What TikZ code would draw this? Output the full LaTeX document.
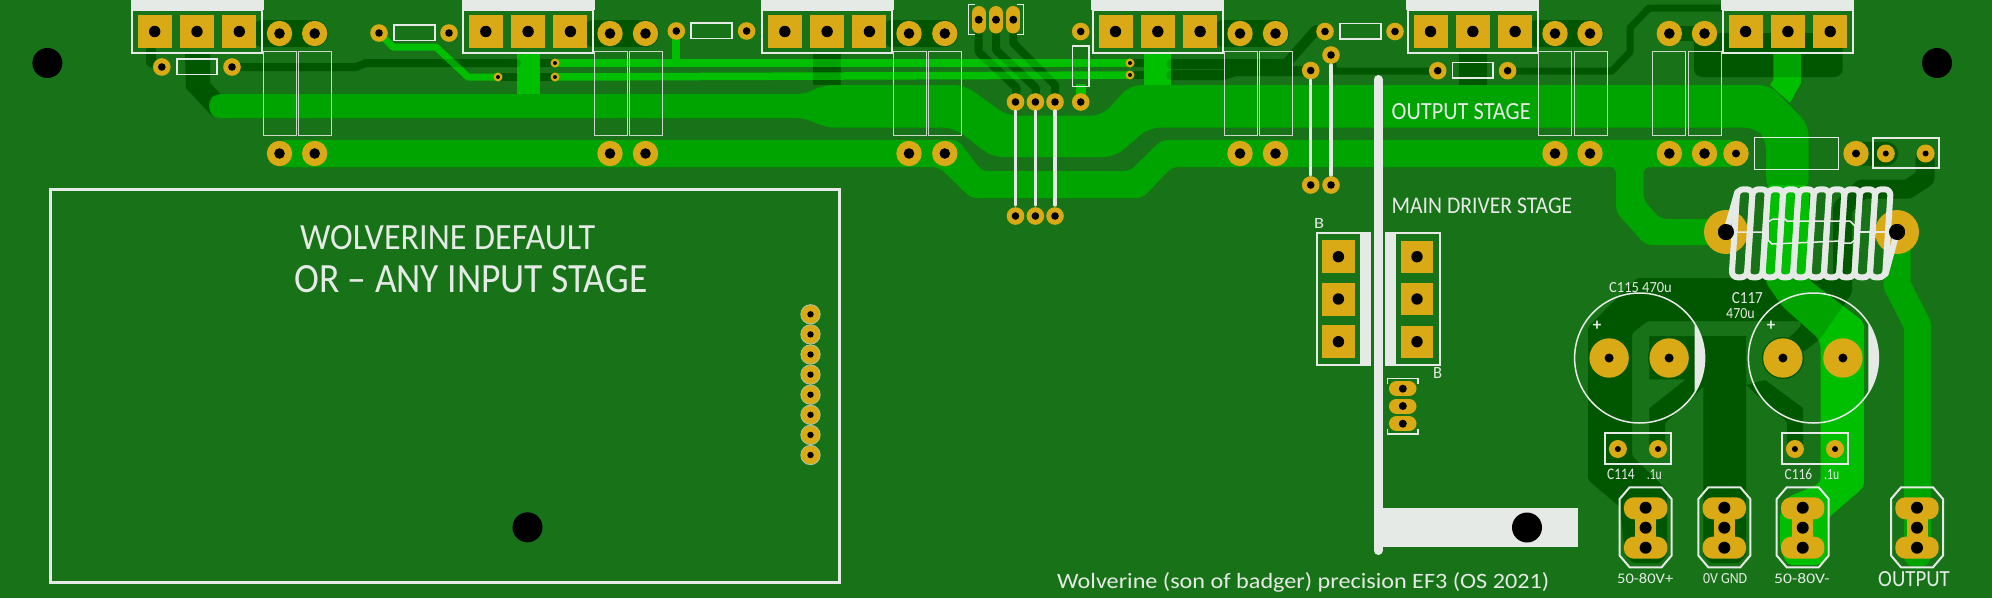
\documentclass[tikz,border=0pt]{standalone}
\usepackage{fontspec}
\setmainfont{Carlito}
\definecolor{board}{HTML}{187318}
\definecolor{midcu}{HTML}{00A400}
\definecolor{brightcu}{HTML}{00BE00}
\definecolor{darkcu}{HTML}{006600}
\definecolor{padcu}{HTML}{DAA916}
\definecolor{silk}{HTML}{E6EAE6}
\tikzset{
	silkline/.style={draw=silk,line width=2pt},
	silkthin/.style={draw=silk!85!board,line width=1pt},
	lbl/.style={inner sep=0pt,anchor=base west,text=silk},
	trace/.style={line join=round,line cap=round},
}
\newcommand{\padhole}[4]{\fill[padcu] (#1,#2) circle (#3); \fill[black] (#1,#2) circle (#4);}
\newcommand{\silkfit}[3]{\resizebox{#1pt}{#2pt}{#3}}
% back side copper, drawn under the front tracks and once more over them
\newcommand{\backcopper}{
	\foreach \xa/\xb in {263/314.7,594/645.5,893/944.8,1224/1275.5,1538/1590}
	\draw[darkcu,trace,line width=27pt] (\xa,33.5) -- (\xb,33.5);
	\draw[darkcu,trace,line width=15pt] (1669,33.5) -- (1704,33.5);
	\draw[darkcu,trace,line width=10pt] (151,50) -- (151,62) -- (162,67);
	\fill[darkcu] (185,54) -- (210,54) -- (210,83) -- (221,94) -- (212,97) -- (209,106) -- (212,116) -- (186,88) -- cycle;
	\draw[darkcu,trace,line width=8pt] (232,67) -- (356,67) -- (366,63) -- (517,63);
	\draw[darkcu,line width=8pt] (540,63) -- (555,63) (498,77) -- (517,77) (540,77) -- (555,77) (1130,63) -- (1144,63) (1130,75) -- (1144,75);
	\fill[darkcu] (813,54) rectangle (840.6,85);
	\fill[darkcu] (1459,54) rectangle (1487,85);
	\draw[darkcu,trace,line width=8pt] (978.7,30) -- (978.7,52) -- (1016.7,88) -- (1015.5,102);
	\draw[darkcu,trace,line width=8pt] (996,30) -- (996,50) -- (1036,88) -- (1035.4,102);
	\draw[darkcu,trace,line width=8pt] (1013.3,30) -- (1013.3,43) -- (1055,85) -- (1055,102);
	\draw[darkcu,trace,line width=10pt] (1171,64) -- (1286,64) -- (1316,30);
	\draw[darkcu,trace,line width=10pt] (1171,75) -- (1223,75) -- (1236,71) -- (1304,71);
	\draw[darkcu,trace,line width=7pt] (1331,55) -- (1334,71) -- (1438,71);
	\draw[darkcu,trace,line width=7pt] (1508,71) -- (1612,71) -- (1630,52) -- (1630,28) -- (1649,8) -- (1722,8);
	\fill[darkcu,rounded corners=8pt] (1694,33) rectangle (1842.6,77);
	\draw[darkcu,trace,line width=24pt] (1856,153.5) -- (1886,153.5);
	\draw[darkcu,trace,line width=19pt] (1925,160) -- (1925,178) -- (1908,189) -- (1862,189) -- (1842.5,208) -- (1842.5,270);
	\fill[darkcu,rounded corners=3pt] (1637,278) -- (1588,327) -- (1588,480) -- (1620,507) -- (1625,555) -- (1633,563) -- (1660,563)
		-- (1667,555) -- (1667,490) -- (1632,456) -- (1632,333) -- (1648,321) -- (1800,321) -- (1802,325) -- (1790,337) -- (1775,345)
		-- (1803,352) -- (1820,339) -- (1852,293) -- (1852,262) -- (1833,262) -- (1833,278) -- cycle;
	\fill[darkcu] (1649.3,336) -- (1746,336) -- (1746,555) -- (1738,563) -- (1711,563) -- (1703.3,555) -- (1703.3,386.7)
		-- (1665,423.3) -- (1665,445) -- (1649.3,445) -- (1649.3,408.3) -- (1686,379.3) -- (1649.3,379.3) -- cycle;
	\fill[darkcu] (1746,385) -- (1787,422) -- (1787,445) -- (1803,445) -- (1803,408) -- (1765,380) -- cycle;
	\fill[darkcu] (1669,358) circle (21);
	\fill[darkcu] (1783,358) circle (21);
}
\begin{document}
\begin{tikzpicture}[x=1pt,y=-1pt]
	\fill[board] (0,0) rectangle (1992,598);
	\useasboundingbox (0,0) rectangle (1992,598);

	\backcopper

	% wide tracks
	\fill[midcu,rounded corners=11pt] (209,94) -- (808,94) -- (821.5,85) -- (964.7,85) -- (1007,115.7) -- (1102.3,115.7)
		-- (1130,85) -- (1770,85) -- (1808.7,125) -- (1808.7,190) -- (1766,190) -- (1766,138) -- (1755,127.5)
		-- (1149,127.5) -- (1115,157) -- (992,157) -- (954,127.5) -- (823,127.5) -- (808,118) -- (209,118) -- cycle;
	\fill[midcu,rounded corners=6pt] (279.5,140) -- (958,140) -- (981.6,171) -- (1130,171) -- (1161.6,140) -- (1736,140)
		-- (1736,167) -- (1643.5,167) -- (1643.5,200) -- (1660.5,219) -- (1726,219) -- (1726,245) -- (1645.6,245)
		-- (1616,212) -- (1616,167) -- (1172,167) -- (1142.6,198) -- (971,198) -- (939,167) -- (279.5,167) -- cycle;
	\draw[midcu,trace,line width=27pt] (1897,240) -- (1897,285) -- (1917.5,325) -- (1917.5,555);

	% thin tracks
	\draw[brightcu,trace,line width=7pt] (379,33) -- (393,47) -- (436,47) -- (468,77) -- (498,77);
	\draw[brightcu,line width=8pt] (555,63) -- (1130,63);
	\draw[brightcu,line width=7.5pt] (555,77) -- (1130,75);
	\draw[brightcu,line width=8pt] (676,31) -- (676,60);
	\draw[brightcu,line width=10pt] (1081,84) -- (1081,102);
	\fill[brightcu] (516.7,54) rectangle (540,94);
	\fill[brightcu] (1143.8,54) rectangle (1171,85);
	\fill[brightcu] (1773.3,54) -- (1801,54) -- (1801,83) -- (1790,102.7) -- (1770,85) -- (1773.3,80) -- cycle;
	\fill[brightcu,rounded corners=5pt] (1766,185) -- (1809,185) -- (1809,280) -- (1864,322) -- (1864,487) -- (1828,518)
		-- (1827,557) -- (1820,565) -- (1787,565) -- (1780,547) -- (1780,513) -- (1788,497) -- (1820.7,483)
		-- (1820.7,345) -- (1818,338) -- (1783,307) -- (1766,283) -- cycle;

	% where back copper crosses the front tracks
	\begin{scope}[transparency group,opacity=.14]
		\colorlet{darkcu}{black}
		\backcopper
	\end{scope}

	% input board outline and fixing holes
	\draw[silk,line width=3pt] (50.5,189) rectangle (839,582.3);
	\fill[black] (47.4,63) circle (15);
	\fill[black] (1937,63) circle (15);
	\fill[black] (527.5,527.3) circle (15);

	% power connectors
	\foreach \cx in {130.5,461.6,760.6,1091.3,1406.3,1721.4}{
		\fill[silk] (\cx,0) rectangle ++(133,10);
		\draw[silkline,line width=2.5pt] (\cx+1.5,10) rectangle ++(130,43);
		\foreach \dx in {24.2,66.5,108.8}{
			\fill[padcu] (\cx+\dx-17,14.7) rectangle ++(34,33.5);
			\fill[black] (\cx+\dx,31.5) circle (5.7);
		}
	}

	% transistor outlines and their pads
	\foreach \tx in {263.4,298.6,594,629,893,928,1224,1259,1538.5,1574,1652.8,1688.4}
	\draw[silkthin] (\tx,51.7) rectangle ++(33,83.6);
	\foreach \px in {279.5,314.7,610,645.5,909,944.8,1240,1275.5,1555,1590,1669.3,1704.5}{
		\padhole{\px}{33.5}{12.7}{5.3}
		\padhole{\px}{153.5}{12.7}{5.3}
	}
	\padhole{1736}{153.5}{12.7}{4}
	\padhole{1856}{153.5}{12.7}{4}

	% small resistors
	\foreach \rx/\ry/\rw in {177/59/40,394/25/41,691/23/41,1340/23.5/41,1452.5/62.7/40.5}
	\draw[silk,line width=1.5pt] (\rx,\ry) rectangle ++(\rw,15.5);
	\foreach \px/\py in {161.8/67,232/67,379/33,449/33,676.3/31,746.6/31,1325/31.5,1395/31.5,1437.7/70.7,1507.6/70.7,1080.7/31.5,1080.7/102,1310.7/70.5,1331/55,1310.7/185,1331/185,1015.5/102,1035.4/102,1055/102,1015.5/216,1035.4/216,1055/216}{
		\padhole{\px}{\py}{8.8}{3.8}
	}
	\draw[silk,line width=1.5pt] (1072.7,46) rectangle (1088.8,86.5);

	% vias
	\foreach \px/\py in {498/77,555/63,555/77,1130/63,1130/75}{
		\padhole{\px}{\py}{4.5}{2}
	}

	% links
	\foreach \px/\ya/\yb in {1015.5/111/205,1035.4/111/205,1055/111/205,1310.7/80/175,1331/65/175}
	\draw[silk,line cap=round,line width=3.2pt] (\px,\ya) -- (\px,\yb);
	\draw[silk,line cap=round,line width=9pt] (1378,79.5) -- (1378,550.5);
	\fill[silk] (1382,508.3) rectangle (1578,546.7);
	\fill[black] (1527,527.5) circle (15);

	% top header
	\draw[silk,line width=1.2pt] (975,4.3) -- (968.3,4.3) -- (968.3,34.7) -- (975,34.7);
	\draw[silk,line width=1.2pt] (1016.6,4.3) -- (1023.3,4.3) -- (1023.3,34.7) -- (1016.6,34.7);
	\foreach \px in {978.7,996,1013.3}{
		\draw[padcu,line cap=round,line width=14pt] (\px,13) -- (\px,26.5);
		\fill[black] (\px,19.7) circle (4);
	}

	% driver header
	\draw[silk,line width=1.2pt] (1387.4,384) -- (1387.4,378.7) -- (1418,378.7) -- (1418,384);
	\draw[silk,line width=1.2pt] (1387.4,429) -- (1387.4,434) -- (1418,434) -- (1418,429);
	\foreach \py in {388.7,406,423.7}{
		\draw[padcu,line cap=round,line width=15pt] (1396.5,\py) -- (1409,\py);
		\fill[black] (1402.8,\py) circle (4);
	}

	% input stage header
	\foreach \i in {0,...,7}{
		\draw[fill=padcu,draw=silk!70!board,line width=.8pt] (810.5,314.3+20.1*\i) circle (9.7);
		\fill[black] (810.5,314.3+20.1*\i) circle (3.2);
	}

	% driver transistors
	\draw[silkline] (1317,233) rectangle (1370,365);
	\fill[silk] (1360,233) rectangle (1370,365);
	\draw[silkline] (1386,233) rectangle (1440,365);
	\fill[silk] (1386,233) rectangle (1396,365);
	\foreach \py in {256.7,299,341.7}{
		\fill[padcu] (1338.4-16.5,\py-16.5) rectangle ++(33,33);
		\fill[black] (1338.4,\py) circle (5.7);
		\fill[padcu] (1417-16,\py-16) rectangle ++(32,32);
		\fill[black] (1417,\py) circle (5.7);
	}

	% box with resistor and cap
	\draw[silk,line width=1.2pt] (1754.5,137.3) rectangle (1838.3,169.3);
	\draw[silkline] (1872.7,138.3) rectangle (1939,168.3);
	\padhole{1885.8}{153.5}{9}{3}
	\padhole{1925.6}{153.5}{9}{3}

	% electrolytics
	\foreach \cx in {1639.6,1813.4}{
		\begin{scope}
			\clip (\cx+55,280) rectangle (\cx+70,440);
			\fill[silk] (\cx,358) circle (65);
		\end{scope}
		\draw[silk,line width=1.5pt] (\cx,358) circle (65);
		\padhole{\cx-30.5}{358}{19.7}{4.5}
		\padhole{\cx+29.5}{358}{19.7}{4.5}
	}

	% small caps
	\foreach \bx in {1605,1782}{
		\draw[silk,line width=1.5pt] (\bx,433) rectangle ++(66,31);
		\padhole{\bx+12.9}{449}{9}{3}
		\padhole{\bx+53}{449}{9}{3}
	}

	% power terminals
	\foreach \tx in {1645.6,1724.3,1802.7,1917}{
		\draw[silkline] (\tx-16,487.3) -- (\tx+16,487.3) -- (\tx+26,499) -- (\tx+26,555.5) -- (\tx+16,567.3)
			-- (\tx-16,567.3) -- (\tx-26,555.5) -- (\tx-26,499) -- cycle;
		\fill[padcu,rounded corners=10pt] (\tx-21.7,497.3) rectangle (\tx+21.7,519.3);
		\fill[padcu,rounded corners=10pt] (\tx-21.7,536.7) rectangle (\tx+21.7,558.7);
		\fill[padcu] (\tx-10.5,510) rectangle (\tx+10.5,545);
		\foreach \py in {507.7,527.7,547.7}
		\fill[black] (\tx,\py) circle (6);
	}

	% inductor
	\padhole{1726}{232}{22}{8}
	\padhole{1897}{232}{22}{8}
	\foreach \i in {0,...,9}
	\draw[silk,line width=6pt,rounded corners=6pt] (1737.3+15.34*\i,189.3) -- ++(15.34,0) -- ++(-5.7,88) -- ++(-15.34,0) -- cycle;
	\draw[silk,line width=6pt,line cap=round] (1726,232) -- (1737.3,192);
	\draw[silk,line width=6pt,line cap=round] (1897,232) -- (1885.6,274);
	\draw[silk,line width=1.5pt] (1726,232) -- (1768,232) -- (1768,222) -- (1773,219) -- (1785,219) -- (1787,221) -- (1850,221) -- (1855,226)
		-- (1855,240) -- (1851,243) -- (1843,243) -- (1840,241) -- (1772,244) -- (1768,240) -- (1768,232);
	\draw[silk,line width=1.5pt] (1855,232) -- (1897,232);
	\fill[black] (1726,232) circle (8);
	\fill[black] (1897,232) circle (8);

	% labels
	\node[lbl] (lblwolverine) at (300,249) {\silkfit{295}{24}{WOLVERINE DEFAULT}};
	\node[lbl] (lblinput) at (294,292) {\silkfit{353}{27}{OR – ANY INPUT STAGE}};
	\node[lbl] (lbloutstage) at (1391.5,119) {\silkfit{139}{16}{OUTPUT STAGE}};
	\node[lbl] (lbldriver) at (1391.5,213) {\silkfit{180.5}{15.5}{MAIN DRIVER STAGE}};
	\node[lbl] (lblba) at (1314,228) {\silkfit{10}{10}{B}};
	\node[lbl] (lblbb) at (1433,378) {\silkfit{9}{11}{B}};
	\node[lbl] (lblcfive) at (1609,292) {\silkfit{62.6}{10}{C115 470u}};
	\node[lbl] (lblcseven) at (1731.6,303) {\silkfit{31}{11}{C117}};
	\node[lbl] (lblcsevenv) at (1726,318) {\silkfit{28.5}{10}{470u}};
	\node[lbl] (lblcfour) at (1607,479) {\silkfit{27.5}{10.5}{C114}};
	\node[lbl] (lblcfourv) at (1646.6,479) {\silkfit{15}{10}{.1u}};
	\node[lbl] (lblcsix) at (1784.5,479) {\silkfit{27.5}{10.5}{C116}};
	\node[lbl] (lblcsixv) at (1824,479) {\silkfit{15}{10}{.1u}};
	\node[lbl] (lblvplus) at (1617,583) {\silkfit{56}{10}{50-80V+}};
	\node[lbl] (lblgnd) at (1703,583) {\silkfit{44}{10}{0V GND}};
	\node[lbl] (lblvminus) at (1774,583) {\silkfit{55.5}{10}{50-80V-}};
	\node[lbl] (lbloutput) at (1878,586.7) {\silkfit{71.6}{15}{OUTPUT}};
	\node[lbl] (lbltitle) at (1057,588.3) {\silkfit{492}{16}{Wolverine (son of badger) precision EF3 (OS 2021)}};
	\node[text=silk,inner sep=0pt,font=\fontsize{17}{17}\selectfont\bfseries] (lblplusa) at (1597,325.7) {+};
	\node[text=silk,inner sep=0pt,font=\fontsize{17}{17}\selectfont\bfseries] (lblplusb) at (1771,325.7) {+};
\end{tikzpicture}
\end{document}
